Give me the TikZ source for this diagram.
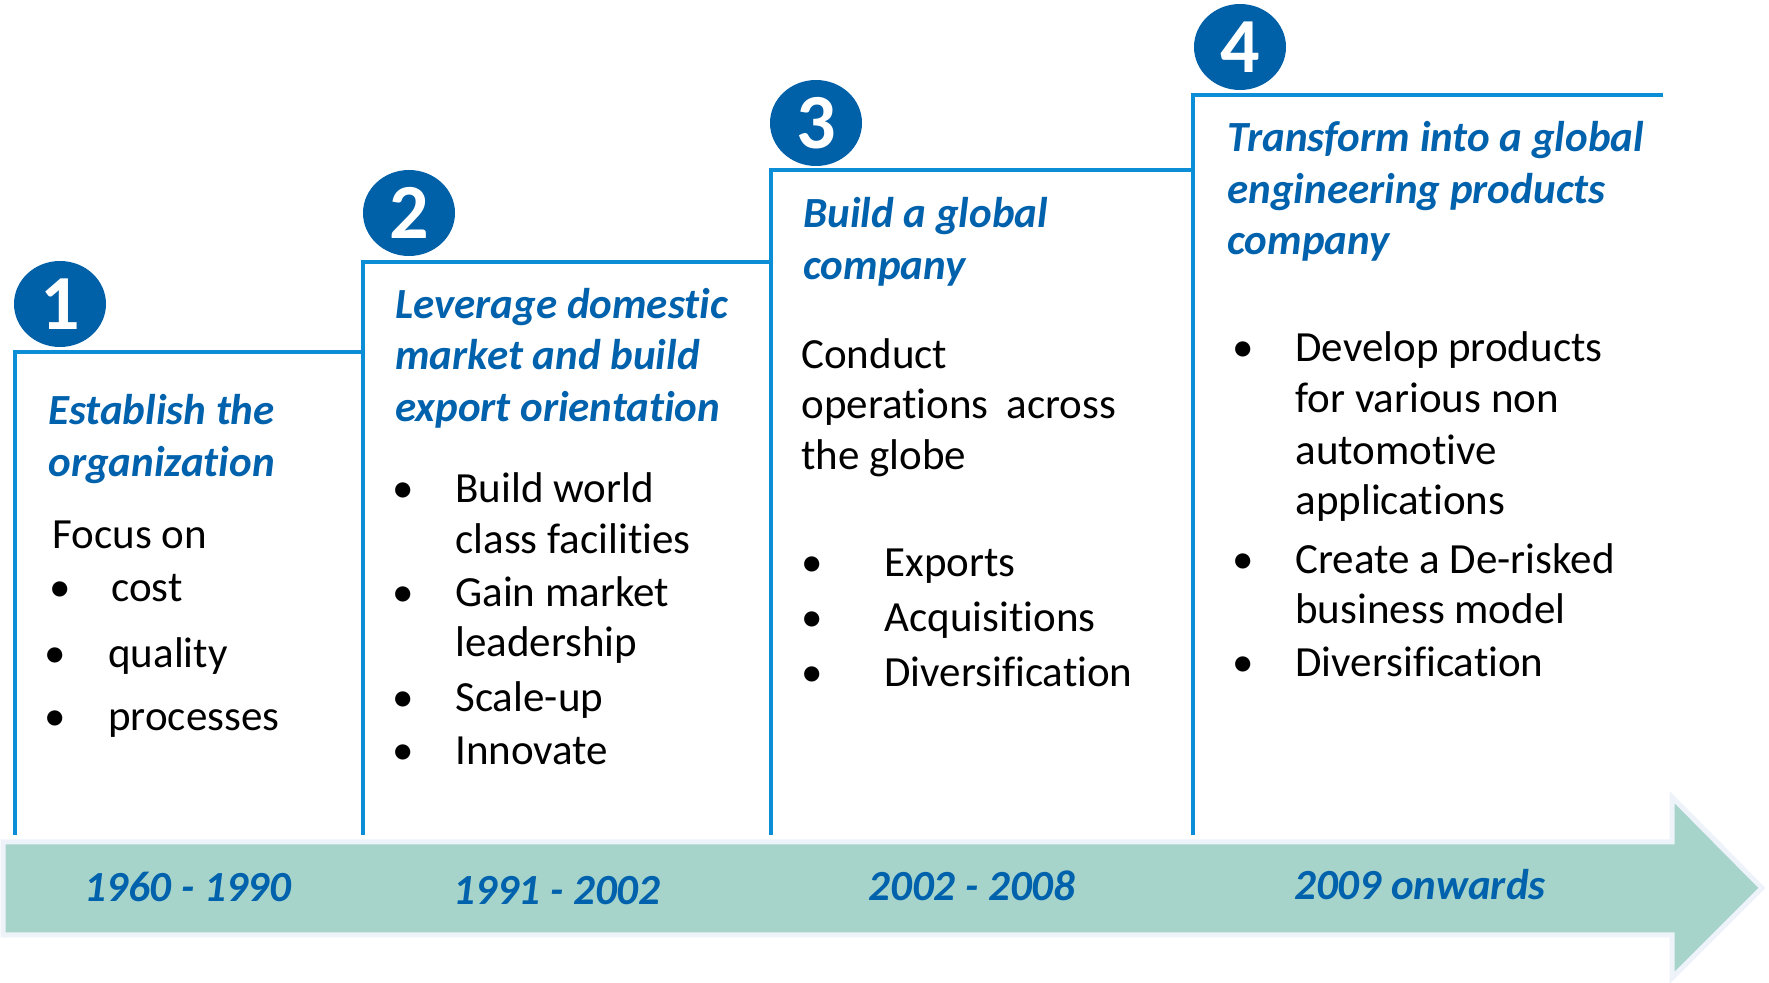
\documentclass[tikz,border=0pt]{standalone}
\usepackage{fontspec}
\setmainfont{Carlito}[Ligatures=NoCommon]
\usetikzlibrary{shapes.geometric}
\definecolor{linec}{HTML}{0B8ED6}
\definecolor{darkb}{HTML}{0060A8}
\definecolor{titleb}{HTML}{0062AC}
\definecolor{bandfill}{HTML}{A7D4CA}
\definecolor{bandedge}{HTML}{EDF3F9}
\tikzset{
  stair/.style={draw=linec, line width=2.3pt, line cap=butt, line join=miter},
  numdisc/.style={ellipse, fill=darkb, minimum width=46pt, minimum height=43pt, inner sep=0pt},
  numtxt/.style={text=white, font=\fontsize{39}{39}\selectfont\bfseries, inner sep=0pt},
  ttl/.style={anchor=base west, inner sep=0pt, text=titleb, font=\fontsize{21.5}{26}\selectfont\bfseries\itshape},
  body/.style={anchor=base west, inner sep=0pt, text=black, font=\fontsize{21.5}{26}\selectfont},
  bul/.style={anchor=base, inner sep=0pt, text=black, font=\fontsize{21.5}{26}\selectfont},
  datetxt/.style={anchor=base, inner sep=0pt, text=titleb, font=\fontsize{21.5}{26}\selectfont\bfseries\itshape},
  band/.style={fill=bandfill, draw=bandedge, line width=2.5pt, line join=miter}
}
\begin{document}
\begin{tikzpicture}[x=0.5pt,y=-0.5pt]
\useasboundingbox (0,0) rectangle (1769,983);
\fill[white] (0,0) rectangle (1769,983);

% timeline arrow band
\draw[band] (3,842) -- (1672,842) -- (1672,797) -- (1762,888) -- (1672,978) -- (1672,935) -- (3,935) -- cycle;

% staircase lines
\draw[stair] (15,835) -- (15,352) -- (363,352);
\draw[stair] (363,835) -- (363,262) -- (771,262);
\draw[stair] (771,835) -- (771,170) -- (1193,170);
\draw[stair] (1193,835) -- (1193,95) -- (1663,95);

% number discs
\node[numdisc] (c1) at (60,304) {};
\node[numtxt] (n1) at (c1.center) {1};
\node[numdisc] (c2) at (409,213) {};
\node[numtxt] (n2) at (c2.center) {2};
\node[numdisc] (c3) at (816,123) {};
\node[numtxt] (n3) at (c3.center) {3};
\node[numdisc] (c4) at (1240,47) {};
\node[numtxt] (n4) at (c4.center) {4};

% box 1
\node[ttl] (t1a) at (48,425) {Establish the};
\node[ttl] (t1b) at (48,477) {organization};
\node[body] (b1a) at (52,549) {Focus on};
\node[bul] (u1a) at (60,602) {•};
\node[body] (b1b) at (111,602) {cost};
\node[bul] (u1b) at (55,668) {•};
\node[body] (b1c) at (108,668) {quality};
\node[bul] (u1c) at (55,731) {•};
\node[body] (b1d) at (108,731) {processes};

% box 2
\node[ttl] (t2a) at (395,319) {Leverage domestic};
\node[ttl] (t2b) at (395,370) {market and build};
\node[ttl] (t2c) at (395,422) {export orientation};
\node[bul] (u2a) at (403,503) {•};
\node[body] (b2a) at (455,503) {Build world};
\node[body] (b2b) at (455,554) {class facilities};
\node[bul] (u2b) at (403,607) {•};
\node[body] (b2c) at (455,607) {Gain market};
\node[body] (b2d) at (455,657) {leadership};
\node[bul] (u2c) at (403,712) {•};
\node[body] (b2e) at (455,712) {Scale-up};
\node[bul] (u2d) at (403,765) {•};
\node[body] (b2f) at (455,765) {Innovate};

% box 3
\node[ttl] (t3a) at (803,228) {Build a global};
\node[ttl] (t3b) at (803,280) {company};
\node[body] (b3a) at (801,369) {Conduct};
\node[body] (b3b) at (801,419) {operations\hspace{9pt}across};
\node[body] (b3c) at (801,470) {the globe};
\node[bul] (u3a) at (812,577) {•};
\node[body] (b3d) at (884,577) {Exports};
\node[bul] (u3b) at (812,632) {•};
\node[body] (b3e) at (884,632) {Acquisitions};
\node[bul] (u3c) at (812,687) {•};
\node[body] (b3f) at (884,687) {Diversification};

% box 4
\node[ttl] (t4a) at (1227,152) {Transform into a global};
\node[ttl] (t4b) at (1227,204) {engineering products};
\node[ttl] (t4c) at (1227,255) {company};
\node[bul] (u4a) at (1243,362) {•};
\node[body] (b4a) at (1295,362) {Develop products};
\node[body] (b4b) at (1295,413) {for various non};
\node[body] (b4c) at (1295,465) {automotive};
\node[body] (b4d) at (1295,515) {applications};
\node[bul] (u4b) at (1243,574) {•};
\node[body] (b4e) at (1295,574) {Create a De-risked};
\node[body] (b4f) at (1295,624) {business model};
\node[bul] (u4c) at (1243,677) {•};
\node[body] (b4g) at (1295,677) {Diversification};

% dates
\node[datetxt] (d1) at (188,902) {1960 - 1990};
\node[datetxt] (d2) at (557,905) {1991 - 2002};
\node[datetxt] (d3) at (972,901) {2002 - 2008};
\node[datetxt] (d4) at (1420,900) {2009 onwards};
\end{tikzpicture}
\end{document}
